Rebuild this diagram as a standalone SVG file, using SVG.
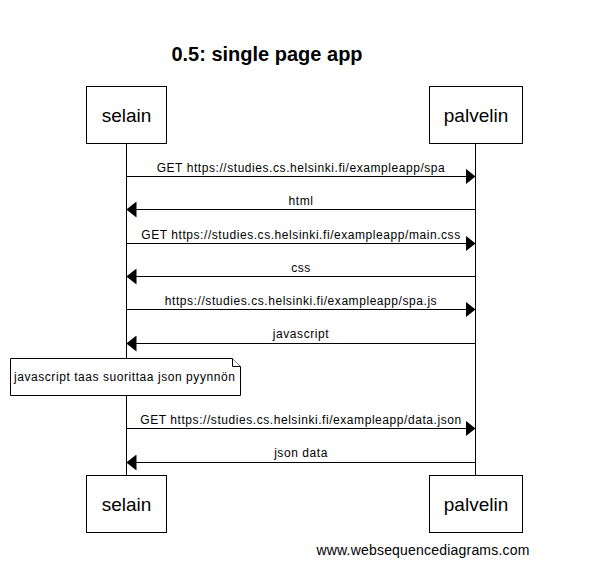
<svg xmlns="http://www.w3.org/2000/svg" width="615" height="583" viewBox="0 0 615 583">
<style>
.bg{fill:#fff}
.box{fill:#fff;stroke:#000;stroke-width:1}
.life{stroke:#000;stroke-width:1;fill:none}
.msg{stroke:#000;stroke-width:1;fill:none}
.actor{font-family:"Liberation Sans",Arial,sans-serif;font-size:19px;fill:#000;text-anchor:middle}
.label{font-family:"Liberation Sans",Arial,sans-serif;font-size:12px;letter-spacing:0.56px;fill:#000;text-anchor:middle}
.note{font-family:"Liberation Sans",Arial,sans-serif;font-size:12px;letter-spacing:0.56px;fill:#000}
.title{font-family:"Liberation Sans",Arial,sans-serif;font-size:20px;font-weight:bold;fill:#000;text-anchor:middle}
.footer{font-family:"Liberation Sans",Arial,sans-serif;font-size:14px;letter-spacing:0.2px;fill:#000;text-anchor:middle}
</style>
<defs>
<marker id="ah" viewBox="0 0 10 16" refX="10" refY="8" markerWidth="10" markerHeight="16" markerUnits="userSpaceOnUse" orient="auto">
<path d="M0,0 L10,8 L0,16 Z" fill="#000"/>
</marker>
</defs>
<rect class="bg" x="0" y="0" width="615" height="583"/>
<text class="title" x="267" y="61">0.5: single page app</text>
<g id="lifelines">
<line class="life" x1="126.5" y1="143" x2="126.5" y2="475"/>
<line class="life" x1="475.5" y1="143" x2="475.5" y2="475"/>
</g>
<g id="selain-top">
<rect class="box" x="86.5" y="86.5" width="80" height="57"/>
<text class="actor" x="126.5" y="122">selain</text>
</g>
<g id="palvelin-top">
<rect class="box" x="429.5" y="86.5" width="93" height="57"/>
<text class="actor" x="476" y="122">palvelin</text>
</g>
<g id="selain-bottom">
<rect class="box" x="86.5" y="475.5" width="80" height="57"/>
<text class="actor" x="126.5" y="511">selain</text>
</g>
<g id="palvelin-bottom">
<rect class="box" x="429.5" y="475.5" width="93" height="57"/>
<text class="actor" x="476" y="511">palvelin</text>
</g>
<g id="connectors">
<line class="msg" x1="126.5" y1="176.5" x2="475.5" y2="176.5" marker-end="url(#ah)"/>
<line class="msg" x1="475.5" y1="209.5" x2="126.5" y2="209.5" marker-end="url(#ah)"/>
<line class="msg" x1="126.5" y1="243.5" x2="475.5" y2="243.5" marker-end="url(#ah)"/>
<line class="msg" x1="475.5" y1="276.5" x2="126.5" y2="276.5" marker-end="url(#ah)"/>
<line class="msg" x1="126.5" y1="309.5" x2="475.5" y2="309.5" marker-end="url(#ah)"/>
<line class="msg" x1="475.5" y1="343.5" x2="126.5" y2="343.5" marker-end="url(#ah)"/>
<line class="msg" x1="126.5" y1="428.5" x2="475.5" y2="428.5" marker-end="url(#ah)"/>
<line class="msg" x1="475.5" y1="462.5" x2="126.5" y2="462.5" marker-end="url(#ah)"/>
<text class="label" x="301" y="172">GET https://studies.cs.helsinki.fi/exampleapp/spa</text>
<text class="label" x="301" y="205">html</text>
<text class="label" x="301" y="239">GET https://studies.cs.helsinki.fi/exampleapp/main.css</text>
<text class="label" x="301" y="272">css</text>
<text class="label" x="301" y="305">https://studies.cs.helsinki.fi/exampleapp/spa.js</text>
<text class="label" x="301" y="338">javascript</text>
<text class="label" x="301" y="424">GET https://studies.cs.helsinki.fi/exampleapp/data.json</text>
<text class="label" x="301" y="457">json data</text>
</g>
<g id="note">
<path class="box" d="M10.5,358.5 L232.5,358.5 L240.5,366.5 L240.5,395.5 L10.5,395.5 Z"/>
<path class="box" d="M232.5,358.5 L232.5,366.5 L240.5,366.5"/>
<text class="note" x="14" y="381">javascript taas suorittaa json pyynnön</text>
</g>
<text class="footer" x="423" y="555">www.websequencediagrams.com</text>
</svg>
